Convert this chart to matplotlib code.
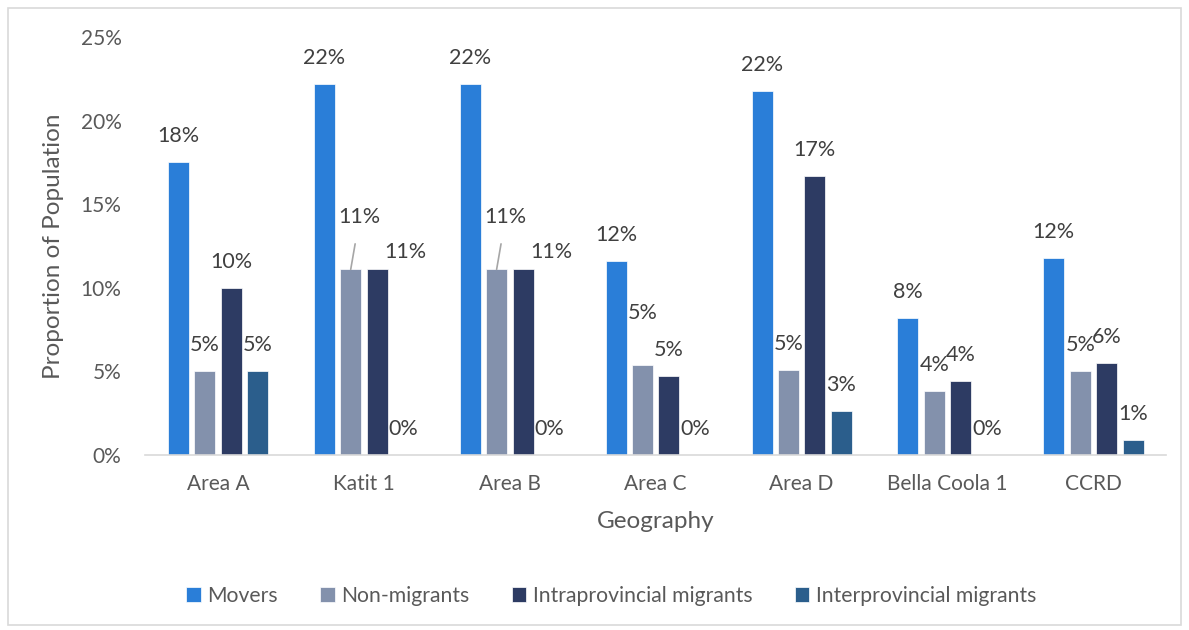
import matplotlib.pyplot as plt
import numpy as np
from matplotlib.patches import Rectangle

# dane (w %)
geografia = ["Area A", "Katit 1", "Area B", "Area C", "Area D", "Bella Coola 1", "CCRD"]
serie = ["Movers", "Non-migrants", "Intraprovincial migrants", "Interprovincial migrants"]
movers = [17.5, 22.2, 22.2, 11.6, 21.8, 8.2, 11.8]
non_migrants = [5.0, 11.1, 11.1, 5.4, 5.1, 3.8, 5.0]
intraprov = [10.0, 11.1, 11.1, 4.7, 16.7, 4.4, 5.5]
interprov = [5.0, 0.0, 0.0, 0.0, 2.6, 0.0, 0.9]
kolory = ["#2A7ED8", "#8391AC", "#2D3B63", "#2B5E8C"]

plt.rcParams['font.family'] = ['Lato', 'DejaVu Sans']
szary = "#595959"
ciemny = "#404040"

fig = plt.figure(figsize=(11.89, 6.3), dpi=100)
ax = fig.add_axes([0.122, 0.278, 0.859, 0.663])

x = np.arange(len(geografia))
szer = 0.144   # szerokosc slupka
krok = 0.181   # odstep miedzy slupkami

# przesuniecia etykiet (w pikselach) dla kilku nakladajacych sie etykiet
przesuniecia = {(1, 1): (9, 52), (2, 1): (9, 52), (1, 2): (28, 17), (2, 2): (28, 17),
                (3, 1): (0, 52)}

wartosci = [movers, non_migrants, intraprov, interprov]
for s, (nazwa, vals, kol) in enumerate(zip(serie, wartosci, kolory)):
    pos = x + (s - 1.5) * krok
    ax.bar(pos, vals, width=szer, color=kol, label=nazwa, edgecolor='white', linewidth=0.5)
    for i, (px, v) in enumerate(zip(pos, vals)):
        dx, dy = przesuniecia.get((i, s), (0, 26))
        lider = (i in (1, 2) and s == 1)
        ax.annotate(f"{v:.0f}%", (px, v), xytext=(dx, dy), textcoords='offset pixels',
                    ha='center', va='center', fontsize=15.5, color=ciemny,
                    arrowprops=dict(arrowstyle='-', color='#A6A6A6', lw=1.2,
                                    shrinkA=10, shrinkB=0) if lider else None)

ax.set_ylim(0, 25)
ax.set_xlim(-0.5, len(geografia) - 0.5)
ax.set_yticks([0, 5, 10, 15, 20, 25])
ax.set_yticklabels([f"{t}%" for t in [0, 5, 10, 15, 20, 25]])
ax.set_xticks(x)
ax.set_xticklabels(geografia)
ax.tick_params(axis='both', length=0, labelsize=15, labelcolor=szary)
ax.tick_params(axis='y', pad=17)
ax.tick_params(axis='x', pad=14)
for sp in ['top', 'right', 'left']:
    ax.spines[sp].set_visible(False)
ax.spines['bottom'].set_color('#D9D9D9')
ax.spines['bottom'].set_linewidth(1.2)

ax.set_ylabel("Proportion of Population", fontsize=17.5, color=szary, labelpad=12)
ax.set_xlabel("Geography", fontsize=17.5, color=szary, labelpad=12)

fig.legend(loc='center', bbox_to_anchor=(0.514, 0.054), ncol=4, frameon=False,
           fontsize=15.2, labelcolor=szary, handlelength=0.7, handleheight=0.7,
           handletextpad=0.3, columnspacing=2.0)

fig.patches.append(Rectangle((0.007, 0.008), 0.986, 0.98, transform=fig.transFigure,
                             fill=False, edgecolor='#D9D9D9', linewidth=1.2))

fig.savefig("out.png", dpi=100)
